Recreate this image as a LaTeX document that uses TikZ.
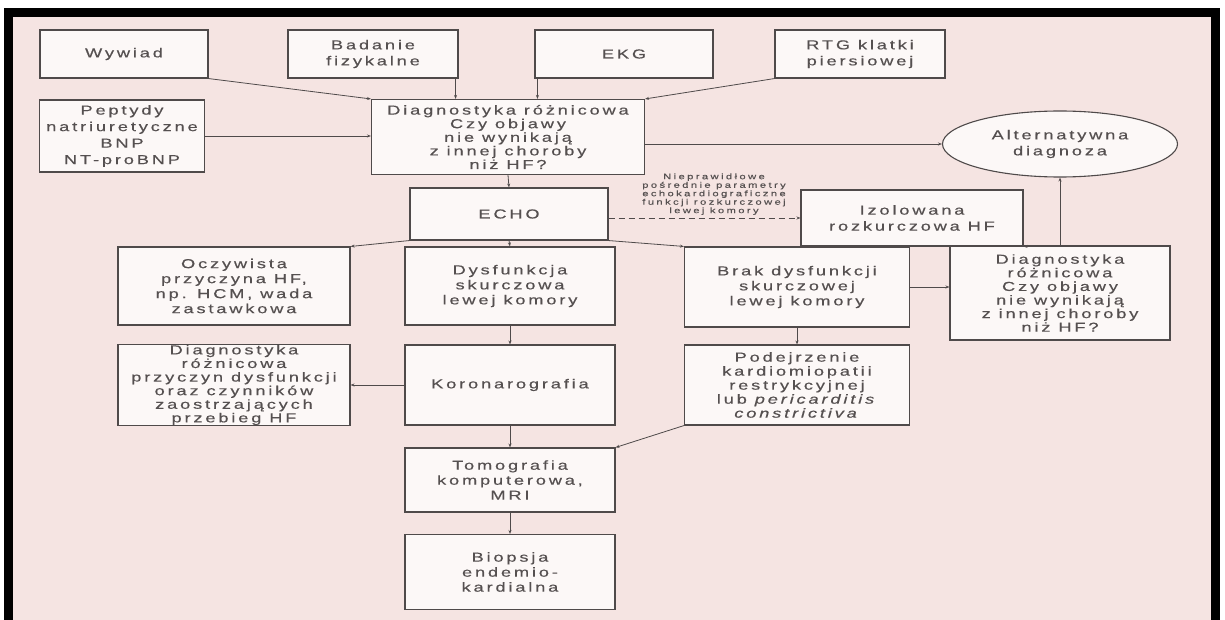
\documentclass[tikz,border=0pt]{standalone}
\usepackage{fontspec}
\setmainfont{Liberation Sans}
\newfontfamily\lf[FakeStretch=1.4,LetterSpace=22,FakeBold=0.45]{Liberation Sans}
\newfontfamily\lfs[FakeStretch=1.4,LetterSpace=30,FakeBold=0.3]{Liberation Sans}
\usetikzlibrary{arrows.meta,shapes.geometric,calc}
\definecolor{bg}{HTML}{F5E4E2}
\definecolor{boxfill}{HTML}{FCF8F7}
\definecolor{ln}{HTML}{4F4A4A}
\definecolor{tx}{HTML}{555050}
\begin{document}
\begin{tikzpicture}[x=1pt,y=-1pt,
  bx/.style={draw=ln, line width=1.1pt, fill=boxfill, align=center, text=tx,
    font=\lf\fontsize{13}{13.6}\selectfont, inner sep=0pt},
  loose/.style={font=\lf\fontsize{13}{15}\selectfont},
  ell/.style={bx, ellipse},
  ar/.style={draw=ln, line width=0.8pt, -{Stealth[length=4pt,width=3pt]}},
  lbl/.style={align=center, text=tx, font=\lfs\fontsize{8}{7.3}\selectfont, inner sep=0pt}
]
\useasboundingbox (0,0) rectangle (1225,620);
\fill[white] (0,0) rectangle (1225,620);
\fill[bg] (13,17) rectangle (1211,620);
\fill[black] (4,8) rectangle (1220,17);
\fill[black] (4,8) rectangle (13,620);
\fill[black] (1211,8) rectangle (1220,620);

\node[bx, minimum width=168pt, minimum height=48pt] (wyw) at (124,54) {Wywiad};
\node[bx, loose, font=\lf\fontsize{13}{16}\selectfont, minimum width=170pt, minimum height=48pt] (bad) at (373,54) {Badanie\\fizykalne};
\node[bx, minimum width=178pt, minimum height=48pt] (ekg) at (624,54) {EKG};
\node[bx, font=\lf\fontsize{13}{16}\selectfont, minimum width=170pt, minimum height=48pt] (rtg) at (860,54) {RTG klatki\\piersiowej};
\node[bx, minimum width=165pt, minimum height=72pt, font=\lf\fontsize{13}{16.5}\selectfont] (pep) at (122,136) {Peptydy\\natriuretyczne\\BNP\\NT-proBNP};
\node[bx, minimum width=273pt, minimum height=75pt] (diag) at (508,137) {Diagnostyka różnicowa\\Czy objawy\\nie wynikają\\z innej choroby\\niż HF?};
\node[ell, minimum width=235pt, minimum height=66pt, font=\lf\fontsize{13}{16}\selectfont] (alt) at (1060,144) {Alternatywna\\diagnoza};
\node[bx, minimum width=198pt, minimum height=52pt] (echo) at (509,214) {ECHO};
\node[bx, font=\lf\fontsize{13}{16}\selectfont, minimum width=222pt, minimum height=56pt] (izo) at (912,218) {Izolowana\\rozkurczowa HF};
\node[bx, minimum width=220pt, minimum height=94pt] (rdiag) at (1060,293) {Diagnostyka\\różnicowa\\Czy objawy\\nie wynikają\\z innej choroby\\niż HF?};
\node[bx, loose, minimum width=232pt, minimum height=78pt] (ocz) at (234,286) {Oczywista\\przyczyna HF,\\np. HCM, wada\\zastawkowa};
\node[bx, loose, minimum width=210pt, minimum height=78pt] (dys) at (510,286) {Dysfunkcja\\skurczowa\\lewej komory};
\node[bx, loose, minimum width=225pt, minimum height=80pt] (brak) at (797,287) {Brak dysfunkcji\\skurczowej\\lewej komory};
\node[bx, minimum width=232pt, minimum height=80pt] (dprz) at (234,385) {Diagnostyka\\różnicowa\\przyczyn dysfunkcji\\oraz czynników\\zaostrzających\\przebieg HF};
\node[bx, minimum width=210pt, minimum height=80pt] (kor) at (510,385) {Koronarografia};
\node[bx, font=\lf\fontsize{13}{14}\selectfont, minimum width=225pt, minimum height=80pt] (pod) at (797,385) {Podejrzenie\\kardiomiopatii\\restrykcyjnej\\lub \textit{pericarditis}\\\textit{constrictiva}};
\node[bx, loose, minimum width=210pt, minimum height=64pt] (tom) at (510,480) {Tomografia\\komputerowa,\\MRI};
\node[bx, loose, minimum width=210pt, minimum height=75pt] (bio) at (510,572) {Biopsja\\endemio-\\kardialna};

\node[lbl, anchor=south] (nlab) at (714,215) {Nieprawidłowe\\pośrednie parametry\\echokardiograficzne\\funkcji rozkurczowej\\lewej komory};

\draw[ar] (wyw.south east) -- (diag.north west);
\draw[ar] ([xshift=-3pt]bad.south east) -- ([xshift=-3pt]bad.south east |- diag.north);
\draw[ar] ([xshift=3pt]ekg.south west) -- ([xshift=3pt]ekg.south west |- diag.north);
\draw[ar] (rtg.south west) -- (diag.north east);
\draw[ar] (pep.east) -- (pep.east -| diag.west);
\draw[ar] (alt.west -| diag.east) -- (alt.west);
\draw[ar] (diag.south) -- (echo.north);
\draw[ar, dash pattern=on 6pt off 4pt] (izo.west -| echo.east) -- (izo.west);
\draw[ar] (echo.south west) -- (ocz.north east);
\draw[ar] (echo.south) -- (dys.north);
\draw[ar] (echo.south east) -- (brak.north west);
\draw[ar] (dys.south) -- (kor.north);
\draw[ar] (kor.west) -- (dprz.east);
\draw[ar] (kor.south) -- (tom.north);
\draw[ar] (pod.south west) -- (tom.north east);
\draw[ar] (tom.south) -- (bio.north);
\draw[ar] (brak.south) -- (pod.north);
\draw[ar] (brak.east) -- (brak.east -| rdiag.west);
\draw[ar] (rdiag.north) -- (alt.south);
\draw[ar] (rdiag.north) -- (izo.south east);
\end{tikzpicture}
\end{document}
